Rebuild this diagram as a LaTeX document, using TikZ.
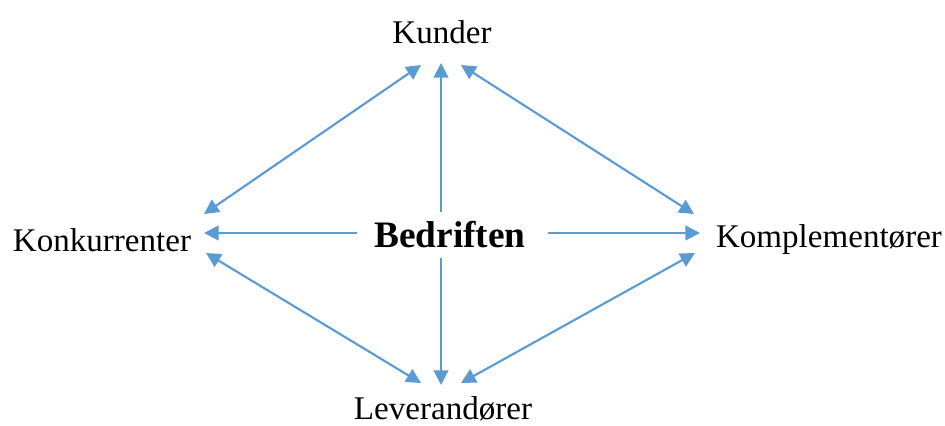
\documentclass[tikz,border=0pt]{standalone}
\usepackage{fontspec}
\setmainfont{Liberation Serif}
\usetikzlibrary{arrows.meta}
\definecolor{arrblue}{RGB}{91,155,213}
\begin{document}
\begin{tikzpicture}[x=0.75pt,y=-0.75pt,
  lbl/.style={inner sep=0pt,font=\fontsize{24.8}{28}\selectfont},
  ctr/.style={inner sep=0pt,font=\fontsize{28}{32}\selectfont\bfseries},
  conn/.style={draw=arrblue,line width=1.6pt,-{Triangle[length=11pt,width=11pt]}},
  bconn/.style={draw=arrblue,line width=1.6pt,{Triangle[length=11pt,width=11pt]}-{Triangle[length=11pt,width=11pt]}}]
\useasboundingbox (0,0) rectangle (945,425);
\node[lbl] (kun) at (442,32) {Kunder};
\node[ctr] (bed) at (450,235) {Bedriften};
\node[lbl] (kon) at (102,240) {Konkurrenter};
\node[lbl] (kom) at (829,240) {Komplementører};
\node[lbl] (lev) at (443,409) {Leverandører};
% endpoints
\coordinate (bu) at (441,212);
\coordinate (ku) at (441,63);
\coordinate (bd) at (441,258);
\coordinate (ld) at (441,385);
\coordinate (bl) at (357,233);
\coordinate (kl) at (204,233);
\coordinate (br) at (548,233);
\coordinate (kr) at (700,233);
\coordinate (kunL) at (421,65);
\coordinate (konT) at (204,214);
\coordinate (kunR) at (461,65);
\coordinate (komT) at (694,214);
\coordinate (konB) at (206,253);
\coordinate (levL) at (421,383);
\coordinate (komB) at (695,253);
\coordinate (levR) at (461,383);
\draw[conn] (bu) -- (ku);
\draw[conn] (bd) -- (ld);
\draw[conn] (bl) -- (kl);
\draw[conn] (br) -- (kr);
\draw[bconn] (kunL) -- (konT);
\draw[bconn] (kunR) -- (komT);
\draw[bconn] (konB) -- (levL);
\draw[bconn] (komB) -- (levR);
\end{tikzpicture}
\end{document}
